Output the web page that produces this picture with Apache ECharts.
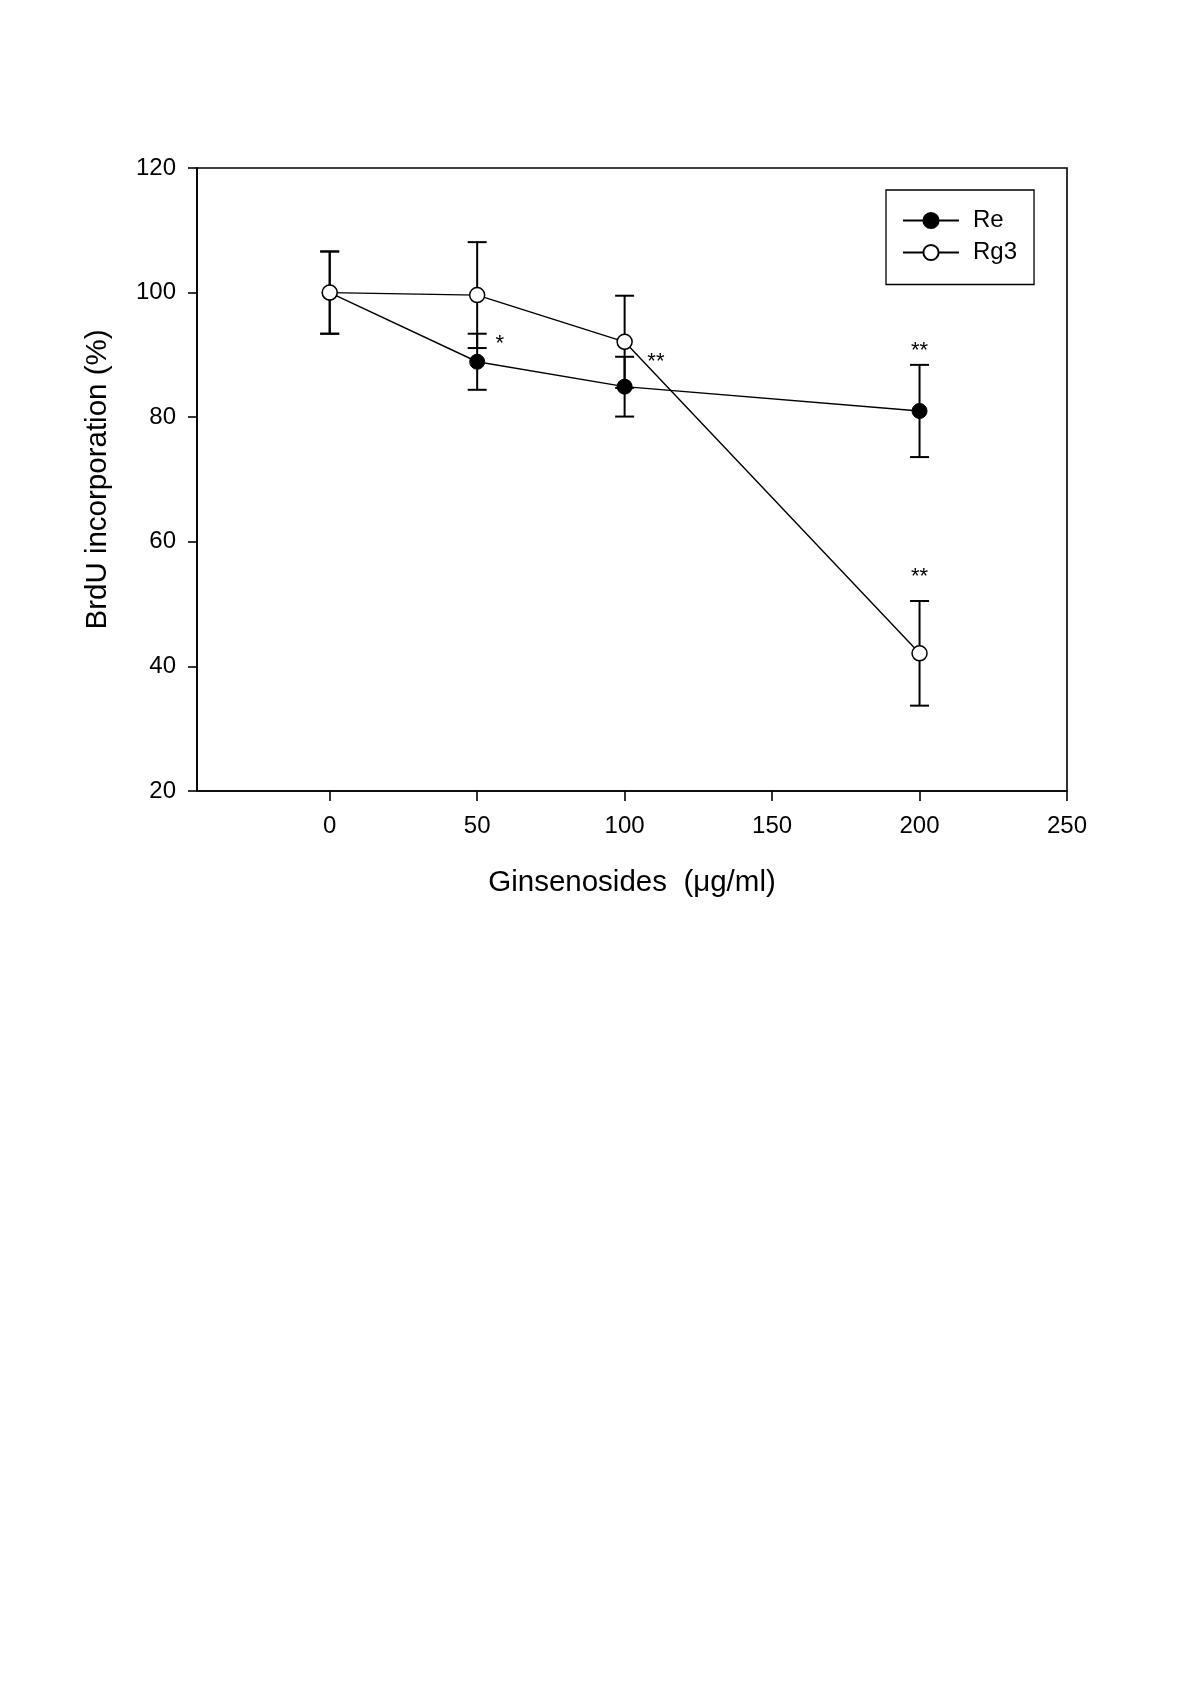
<!DOCTYPE html>
<html>
<head>
<meta charset="utf-8">
<script src="https://cdn.jsdelivr.net/npm/echarts@6/dist/echarts.min.js"></script>
<style>
html,body{margin:0;padding:0;background:#fff;}
#chart{width:1200px;height:1699px;}
</style>
</head>
<body>
<div id="chart"></div>
<script>
// ---- data ----
const doses = [0, 50, 100, 200];
const reMean = [100, 88.9, 84.9, 81.0];
const reErr  = [6.6, 4.5, 4.8, 7.4];
const rg3Mean = [100, 99.6, 92.1, 42.1];
const rg3Err  = [6.6, 8.5, 7.4, 8.4];
const xTicks = [0, 50, 100, 150, 200, 250];
// significance marks: [x, y, text]
const marks = [
  [57.7, 91.8, '*'],
  [110.6, 88.9, '**'],
  [200.0, 90.7, '**'],
  [200.0, 54.3, '**']
];

const FONT = "'Liberation Sans', Arial, sans-serif";

function pairs(xs, ys) { return xs.map((x, i) => [x, ys[i]]); }
function errData(xs, m, e) { return xs.map((x, i) => [x, m[i] - e[i], m[i] + e[i]]); }

function errRender(params, api) {
  const x = api.value(0), lo = api.value(1), hi = api.value(2);
  const pHi = api.coord([x, hi]);
  const pLo = api.coord([x, lo]);
  const h = 9.5;
  const st = { stroke: '#000', lineWidth: 2 };
  return {
    type: 'group',
    children: [
      { type: 'line', shape: { x1: pHi[0], y1: pHi[1], x2: pLo[0], y2: pLo[1] }, style: st },
      { type: 'line', shape: { x1: pHi[0] - h, y1: pHi[1], x2: pHi[0] + h, y2: pHi[1] }, style: st },
      { type: 'line', shape: { x1: pLo[0] - h, y1: pLo[1], x2: pLo[0] + h, y2: pLo[1] }, style: st }
    ]
  };
}

const chart = echarts.init(document.getElementById('chart'), null, { renderer: 'canvas' });
chart.setOption({
  animation: false,
  backgroundColor: '#fff',
  grid: {
    left: 197, top: 168, right: 133, bottom: 908,
    show: true, borderColor: '#000', borderWidth: 1.6, backgroundColor: 'transparent'
  },
  legend: {
    data: ['Re', 'Rg3'],
    orient: 'vertical',
    left: 886, top: 190,
    padding: [18.5, 17, 20, 16],
    borderColor: '#000', borderWidth: 1.3,
    itemWidth: 56, itemHeight: 19, itemGap: 8,
    textStyle: { fontFamily: FONT, fontSize: 24, color: '#000', padding: [0, 0, 0, 9] }
  },
  xAxis: {
    type: 'value', min: -45, max: 250,
    name: 'Ginsenosides  (\u03bcg/ml)',
    nameLocation: 'middle', nameGap: 77,
    nameTextStyle: { fontFamily: FONT, fontSize: 29.5, color: '#000' },
    axisLine: { show: true, onZero: false, lineStyle: { color: '#000', width: 1.6 } },
    axisTick: { show: true, inside: false, length: 10, customValues: xTicks, lineStyle: { color: '#000', width: 1.6 } },
    axisLabel: { customValues: xTicks, margin: 23, fontFamily: FONT, fontSize: 24, color: '#000' },
    splitLine: { show: false }
  },
  yAxis: {
    type: 'value', min: 20, max: 120, interval: 20,
    name: 'BrdU incorporation (%)',
    nameLocation: 'middle', nameGap: 84,
    nameTextStyle: { fontFamily: FONT, fontSize: 29.5, color: '#000' },
    axisLine: { show: true, onZero: false, lineStyle: { color: '#000', width: 1.6 } },
    axisTick: { show: true, inside: false, length: 9, lineStyle: { color: '#000', width: 1.6 } },
    axisLabel: { margin: 21, fontFamily: FONT, fontSize: 24, color: '#000' },
    splitLine: { show: false }
  },
  series: [
    {
      name: 'ReErr', type: 'custom', renderItem: errRender, z: 1,
      data: errData(doses, reMean, reErr), silent: true
    },
    {
      name: 'Rg3Err', type: 'custom', renderItem: errRender, z: 1,
      data: errData(doses, rg3Mean, rg3Err), silent: true
    },
    {
      name: 'Re', type: 'line', z: 3,
      data: pairs(doses, reMean),
      symbol: 'circle', symbolSize: 15,
      lineStyle: { color: '#000', width: 1.4 },
      itemStyle: { color: '#000', borderColor: '#000', borderWidth: 1 }
    },
    {
      name: 'Rg3', type: 'line', z: 4,
      data: pairs(doses, rg3Mean),
      symbol: 'circle', symbolSize: 15,
      lineStyle: { color: '#000', width: 1.4 },
      itemStyle: { color: '#fff', borderColor: '#000', borderWidth: 1.5 }
    },
    {
      name: 'marks', type: 'custom', z: 5, silent: true,
      data: marks,
      renderItem: function (params, api) {
        const p = api.coord([api.value(0), api.value(1)]);
        return {
          type: 'text', x: p[0], y: p[1],
          style: {
            text: marks[params.dataIndex][2],
            fontFamily: FONT, fontSize: 22, fill: '#000',
            align: 'center', verticalAlign: 'middle'
          }
        };
      }
    }
  ]
});
</script>
</body>
</html>
